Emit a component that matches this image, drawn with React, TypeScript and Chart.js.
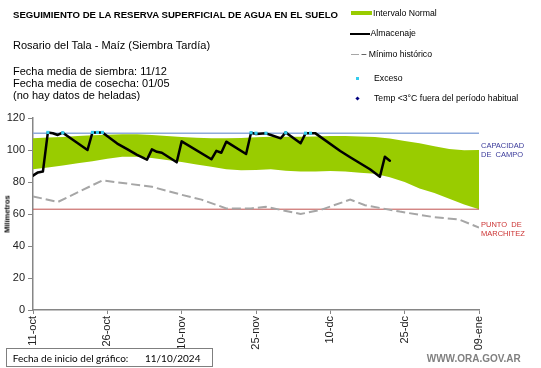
import React, { useEffect, useRef } from "react";
import { Chart, registerables } from "chart.js";

Chart.register(...registerables);

const xTickLabels = ["11-oct", "26-oct", "10-nov", "25-nov", "10-dc", "25-dc", "09-ene"];

const bandDays = [0, 3, 6, 9, 12, 15, 18, 21, 24, 27, 30, 33, 36, 39, 42, 45, 48, 51, 54, 57, 60, 63, 66, 69, 72, 75, 78, 81, 84, 87, 90];
const bandUpper = [107.3, 107.8, 108.2, 108.7, 109.2, 109.5, 109.8, 109.8, 109.3, 108.8, 108.2, 107.6, 107.4, 107.3, 107.5, 108, 108.3, 108.3, 108.3, 108.5, 108.7, 108.7, 108.5, 108.2, 107.2, 105.7, 104.2, 102.3, 100.6, 99.8, 100];
const bandLower = [88, 89, 90.3, 91.7, 93, 94.5, 95.8, 95.8, 95, 93.8, 92.5, 91, 89.5, 88, 87.3, 87.5, 87.9, 87, 86.5, 86.6, 86.9, 86.5, 85.8, 85.2, 83, 80, 76, 73.2, 69.5, 66, 63];

const minHistDays = [0, 5, 14, 24, 30, 34, 39, 44, 47, 54, 58, 64, 67, 74, 81, 86, 90];
const minHistValues = [71, 67.5, 81, 77, 72, 69, 63.5, 63.5, 64.5, 60, 62.5, 69, 65.5, 61.5, 58, 56.5, 51.5];

const almDays = [0, 1, 2, 3, 4, 5, 6, 11, 12, 14, 17, 19, 21, 23, 24, 25, 26, 29, 30, 36, 37, 38, 39, 43, 44, 45, 47, 48, 50, 51, 54, 55, 57, 62, 64, 68, 70, 71, 72];
const almValues = [84, 86, 86.5, 111, 110.5, 109.4, 110.8, 100, 111, 111, 104, 100.5, 97, 94, 100.4, 98.9, 98.3, 92.3, 105.4, 94.2, 99.5, 98.3, 105.2, 97.5, 110.8, 110, 110.4, 109.4, 107.3, 111, 104.2, 110.4, 110.4, 99.4, 95.5, 88, 83.3, 95.8, 93.3];

const excesoDays = [3, 6, 12, 13, 14, 44, 45, 47, 51, 55, 56];
const excesoValues = [111, 110.8, 111, 111, 111, 110.8, 110.5, 110.5, 110.8, 110.5, 110.5];

const capacidadCampo = 110.5;
const puntoMarchitez = 63;
const xMin = 0;
const xMax = 90;

const FONT = "'Liberation Sans', Arial, sans-serif";

const pts = (xs: number[], ys: number[]) => xs.map((x, i) => ({ x, y: ys[i] }));

function T(props: { x: number; y: number; size: number; bold?: boolean; color?: string; font?: string; children: React.ReactNode }) {
  const { x, y, size, bold, color, font, children } = props;
  return (
    <div
      style={{
        position: "absolute",
        left: x,
        top: y - size * 0.6,
        fontSize: size,
        lineHeight: `${size * 1.2}px`,
        fontWeight: bold ? "bold" : "normal",
        color: color || "#000",
        fontFamily: font || FONT,
        whiteSpace: "pre",
      }}
    >
      {children}
    </div>
  );
}

export default function App() {
  const ref = useRef<HTMLCanvasElement | null>(null);

  useEffect(() => {
    if (!ref.current) return;
    const chart = new Chart(ref.current, {
      type: "line",
      data: {
        datasets: [
          {
            label: "lower",
            data: pts(bandDays, bandLower),
            borderWidth: 0,
            pointRadius: 0,
            fill: false,
            order: 6,
          },
          {
            label: "Intervalo Normal",
            data: pts(bandDays, bandUpper),
            borderWidth: 0,
            pointRadius: 0,
            backgroundColor: "#99cc00",
            fill: 0,
            order: 5,
          },
          {
            label: "cap",
            data: pts([xMin, xMax], [capacidadCampo, capacidadCampo]),
            borderColor: "#8eaadb",
            borderWidth: 1.5,
            pointRadius: 0,
            order: 4,
          },
          {
            label: "pm",
            data: pts([xMin, xMax], [puntoMarchitez, puntoMarchitez]),
            borderColor: "#c0504d",
            borderWidth: 1,
            pointRadius: 0,
            order: 4,
          },
          {
            label: "Mínimo histórico",
            data: pts(minHistDays, minHistValues),
            borderColor: "#a6a6a6",
            borderWidth: 2,
            borderDash: [9, 4],
            pointRadius: 0,
            order: 3,
          },
          {
            label: "Almacenaje",
            data: pts(almDays, almValues),
            borderColor: "#000000",
            borderWidth: 2.5,
            borderJoinStyle: "round",
            borderCapStyle: "round",
            pointRadius: 0,
            order: 2,
          },
          {
            label: "Exceso",
            data: pts(excesoDays, excesoValues),
            showLine: false,
            pointStyle: "rect",
            pointRadius: 2.2,
            pointBackgroundColor: "#33ccee",
            pointBorderWidth: 0,
            order: 1,
          },
        ],
      },
      options: {
        animation: false,
        responsive: false,
        events: [],
        layout: { padding: { left: 0, right: 62, top: 118, bottom: 0 } },
        plugins: { legend: { display: false }, tooltip: { enabled: false } },
        scales: {
          x: {
            type: "linear",
            min: xMin,
            max: xMax,
            afterFit: (s: any) => {
              s.height = 58;
            },
            afterBuildTicks: (s: any) => {
              s.ticks = xTickLabels.map((_, i) => ({ value: i * 15 }));
            },
            ticks: {
              autoSkip: false,
              maxRotation: 90,
              minRotation: 90,
              padding: 2,
              color: "#222",
              font: { family: FONT, size: 11 },
              callback: (v: any) => xTickLabels[Math.round(Number(v) / 15)] ?? "",
            },
            grid: { drawOnChartArea: false, drawTicks: true, tickLength: 4, color: "#868686", lineWidth: 1 },
            border: { color: "#868686", width: 1.5 },
          },
          y: {
            type: "linear",
            min: 0,
            max: 120,
            afterFit: (s: any) => {
              s.width = 33;
            },
            ticks: {
              stepSize: 20,
              padding: 3,
              color: "#222",
              font: { family: FONT, size: 11 },
            },
            grid: { drawOnChartArea: false, drawTicks: true, tickLength: 5, color: "#868686", lineWidth: 1 },
            border: { color: "#868686", width: 1.5 },
          },
        },
      },
    } as any);
    return () => chart.destroy();
  }, []);

  return (
    <div style={{ position: "fixed", left: 0, top: 0, width: 541, height: 368, background: "#fff", overflow: "hidden" }}>
      <canvas ref={ref} width={541} height={368} style={{ position: "absolute", left: 0, top: 0, width: 541, height: 368 }} />
      <T x={13} y={14.5} size={9.6} bold>SEGUIMIENTO DE LA RESERVA SUPERFICIAL DE AGUA EN EL SUELO</T>
      <T x={13} y={46} size={11}>Rosario del Tala - Maíz (Siembra Tardía)</T>
      <T x={13} y={71.5} size={11}>Fecha media de siembra: 11/12</T>
      <T x={13} y={83.5} size={11}>Fecha media de cosecha: 01/05</T>
      <T x={13} y={96} size={11}>(no hay datos de heladas)</T>

      <div style={{ position: "absolute", left: 351, top: 11, width: 21, height: 4, background: "#99cc00" }} />
      <T x={373} y={13.3} size={8.7}>Intervalo Normal</T>
      <div style={{ position: "absolute", left: 350, top: 32.5, width: 20, height: 2, background: "#000" }} />
      <T x={370.5} y={33.7} size={8.7}>Almacenaje</T>
      <div style={{ position: "absolute", left: 351, top: 53.5, width: 8, height: 1.5, background: "#a6a6a6" }} />
      <T x={361.5} y={54.3} size={8.7}>– Mínimo histórico</T>
      <div style={{ position: "absolute", left: 356, top: 77, width: 3, height: 3, background: "#33ccee" }} />
      <T x={374} y={78.3} size={8.7}>Exceso</T>
      <div style={{ position: "absolute", left: 356, top: 97.3, width: 3, height: 3, background: "#000080", transform: "rotate(45deg)" }} />
      <T x={374} y={98.7} size={8.7}>Temp &lt;3°C fuera del período habitual</T>

      <T x={481} y={145} size={7.5} color="#3a3a9a">CAPACIDAD</T>
      <T x={481} y={154} size={7.5} color="#3a3a9a">DE  CAMPO</T>
      <T x={481} y={224.3} size={7.5} color="#cc3333">PUNTO  DE</T>
      <T x={481} y={233.7} size={7.5} color="#cc3333">MARCHITEZ</T>

      <div
        style={{
          position: "absolute",
          left: 7,
          top: 214,
          transform: "translate(-50%, -50%) rotate(-90deg)",
          fontSize: 7.5,
          fontWeight: "bold",
          fontFamily: FONT,
          whiteSpace: "nowrap",
        }}
      >
        Milímetros
      </div>

      <div style={{ position: "absolute", left: 6, top: 348, width: 207, height: 19, boxSizing: "border-box", border: "1px solid #7f7f7f" }} />
      <T x={12.7} y={358.3} size={10} font="Lato, 'Open Sans', sans-serif">Fecha de inicio del gráfico:</T>
      <T x={145} y={358.3} size={10} font="Lato, 'Open Sans', sans-serif">11/10/2024</T>

      <T x={426.7} y={359.3} size={10} bold color="#808080">WWW.ORA.GOV.AR</T>
    </div>
  );
}
